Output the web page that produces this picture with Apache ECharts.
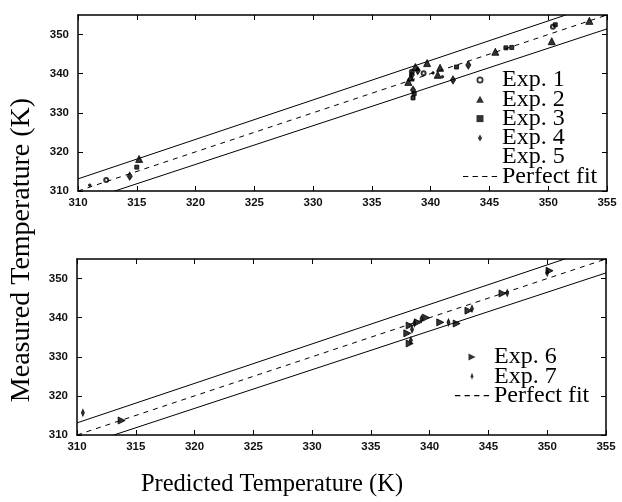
<!DOCTYPE html>
<html><head><meta charset="utf-8">
<script src="https://cdn.jsdelivr.net/npm/echarts@6/dist/echarts.min.js"></script>
<style>html,body{margin:0;padding:0;background:#fff}#c{width:622px;height:502px}</style>
</head><body><div id="c"></div>
<script>
// ---- data ----
const xTicks = [310,315,320,325,330,335,340,345,350,355];
const yTicks = [310,320,330,340,350];
const perfectFit = [[310,310],[355,355]];
const upperBand = [[310,313.1],[351.49,355]];
const lowerBand = [[313.13,310],[355,351.45]];
// top panel
const exp1 = [[312.4,312.8],[350.4,352.0],[338.4,340.5],[339.4,340.1]];
const exp2 = [[315.2,318.2],[339.7,342.7],[338.7,341.7],[340.8,341.5],[345.5,345.6],[350.3,348.3],[353.5,353.5],[338.1,337.9],[340.6,339.7],[338.3,339.0]];
const exp3 = [[315.0,316.1],[342.2,341.7],[346.4,346.6],[346.9,346.7],[338.5,333.8],[338.6,334.9],[350.6,352.5]];
const exp4 = [[314.4,313.8],[343.2,342.2],[341.9,338.4],[338.4,339.7],[338.5,335.8],[338.9,340.8]];
const exp5 = [[340.2,340.2],[341.0,339.2],[338.9,341.2],[311.0,311.5]];
// bottom panel
const exp6 = [[313.8,313.7],[339.0,338.8],[339.7,340.0],[340.9,338.8],[342.3,338.5],[343.3,341.8],[346.2,346.2],[350.2,352.0],[338.3,338.0],[338.1,336.0],[338.3,333.4]];
const exp7 = [[310.5,315.7],[339.3,339.7],[343.6,342.3],[350.0,351.5],[346.6,346.3],[338.5,337.0],[341.6,338.8],[338.4,334.2],[338.7,338.6]];

const chart = echarts.init(document.getElementById('c'));
const tickFont = {fontFamily:'Liberation Sans', fontSize:11.5, fontWeight:'bold', color:'#111'};
const serif = 'Liberation Serif';

function xAx(g, pos, labels){
  return {type:'value', gridIndex:g, position:pos, min:310, max:355, interval:5,
    axisLine:{show:true, onZero:false, lineStyle:{color:'#000', width:1.5}},
    axisTick:{show:true, inside:true, length:5, lineStyle:{color:'#000', width:1}},
    axisLabel:Object.assign({show:labels, margin:6}, tickFont),
    splitLine:{show:false}};
}
function yAx(g, pos, labels){
  return {type:'value', gridIndex:g, position:pos, min:310, max:355, interval:10,
    axisLine:{show:true, onZero:false, lineStyle:{color:'#000', width:1.5}},
    axisTick:{show:true, inside:true, length:5, lineStyle:{color:'#000', width:1}},
    axisLabel:Object.assign({show:labels, margin:9, showMaxLabel:false}, tickFont),
    splitLine:{show:false}};
}
function lineS(name, data, xi, yi, dashed){
  return {type:'line', name:name, data:data, xAxisIndex:xi, yAxisIndex:yi, symbol:'none', silent:true,
    lineStyle:{color:'#000', width:1, type: dashed ? [5,5] : 'solid'}, itemStyle:{color:'#000'}, z:1};
}
function scat(name, data, xi, yi, symbol, size){
  return {type:'scatter', name:name, data:data, xAxisIndex:xi, yAxisIndex:yi, symbol:symbol, symbolSize:size,
    itemStyle:{color:'#000', borderColor:'#000'}, z:3};
}
const rtri = 'path://M0,0L10,5L0,10Z';
const thin = 'path://M4,0L6,5L4,10L2,5Z';
const triIcon = 'path://M5,0L10,9L0,9Z';
const rectIcon = 'path://M0,0h10v10h-10z';
const diaIcon = 'path://M3,0L6,5L3,10L0,5Z';
const ringIcon = 'path://M0,5A5,5 0 1,1 10,5A5,5 0 1,1 0,5Z M2.5,5A2.5,2.5 0 1,0 7.5,5A2.5,2.5 0 1,0 2.5,5Z';
const dashIcon = 'path://M0,0h5v1h-5z M9,0h5v1h-5z M18,0h5v1h-5z M27,0h5v1h-5z';
const legText = {fontFamily:serif, fontSize:24, color:'#000'};

chart.setOption({
  animation:false,
  grid:[{left:78, top:15, width:529, height:176},{left:77, top:259, width:529, height:176}],
  xAxis:[xAx(0,'bottom',true), xAx(0,'top',false), xAx(1,'bottom',true), xAx(1,'top',false)],
  yAxis:[yAx(0,'left',true), yAx(0,'right',false), yAx(1,'left',true), yAx(1,'right',false)],
  legend:[
    {orient:'vertical', left:463, top:68, padding:0, itemGap:-4.7, itemWidth:34, itemHeight:7, symbolKeepAspect:true,
     textStyle:legText,
     data:[{name:'Exp. 1', icon:ringIcon},{name:'Exp. 2', icon:triIcon},{name:'Exp. 3', icon:rectIcon},{name:'Exp. 4', icon:diaIcon},
           {name:'Exp. 5', icon:rectIcon, itemStyle:{color:'rgba(0,0,0,0)', borderColor:'rgba(0,0,0,0)'}},{name:'Perfect fit', icon:dashIcon}]},
    {orient:'vertical', left:455, top:345, padding:0, itemGap:-4.7, itemWidth:34, itemHeight:7, symbolKeepAspect:true,
     textStyle:legText,
     data:[{name:'Exp. 6', icon:rtri},{name:'Exp. 7', icon:thin},{name:'Perfect fit', icon:dashIcon}]}
  ],
  series:[
    lineS('Perfect fit', perfectFit, 0, 0, true),
    lineS('band', upperBand, 0, 0, false),
    lineS('band', lowerBand, 0, 0, false),
    lineS('Perfect fit', perfectFit, 2, 2, true),
    lineS('band', upperBand, 2, 2, false),
    lineS('band', lowerBand, 2, 2, false),
    scat('Exp. 1', exp1, 0, 0, 'emptyCircle', 4),
    scat('Exp. 2', exp2, 0, 0, 'triangle', 7),
    scat('Exp. 3', exp3, 0, 0, 'rect', 4),
    scat('Exp. 4', exp4, 0, 0, 'diamond', [5,8]),
    scat('Exp. 5', exp5, 0, 0, 'circle', 2.5),
    scat('Exp. 6', exp6, 2, 2, rtri, 7),
    scat('Exp. 7', exp7, 2, 2, thin, [3,7])
  ],
  graphic:[
    {type:'text', x:22, y:250, rotation:Math.PI/2, style:{text:'Measured Temperature (K)', fontFamily:serif, fontSize:28, fill:'#000', align:'center', verticalAlign:'middle'}},
    {type:'text', x:272, y:485, style:{text:'Predicted Temperature (K)', fontFamily:serif, fontSize:24.5, fill:'#000', align:'center', verticalAlign:'middle'}}
  ]
});
</script></body></html>
